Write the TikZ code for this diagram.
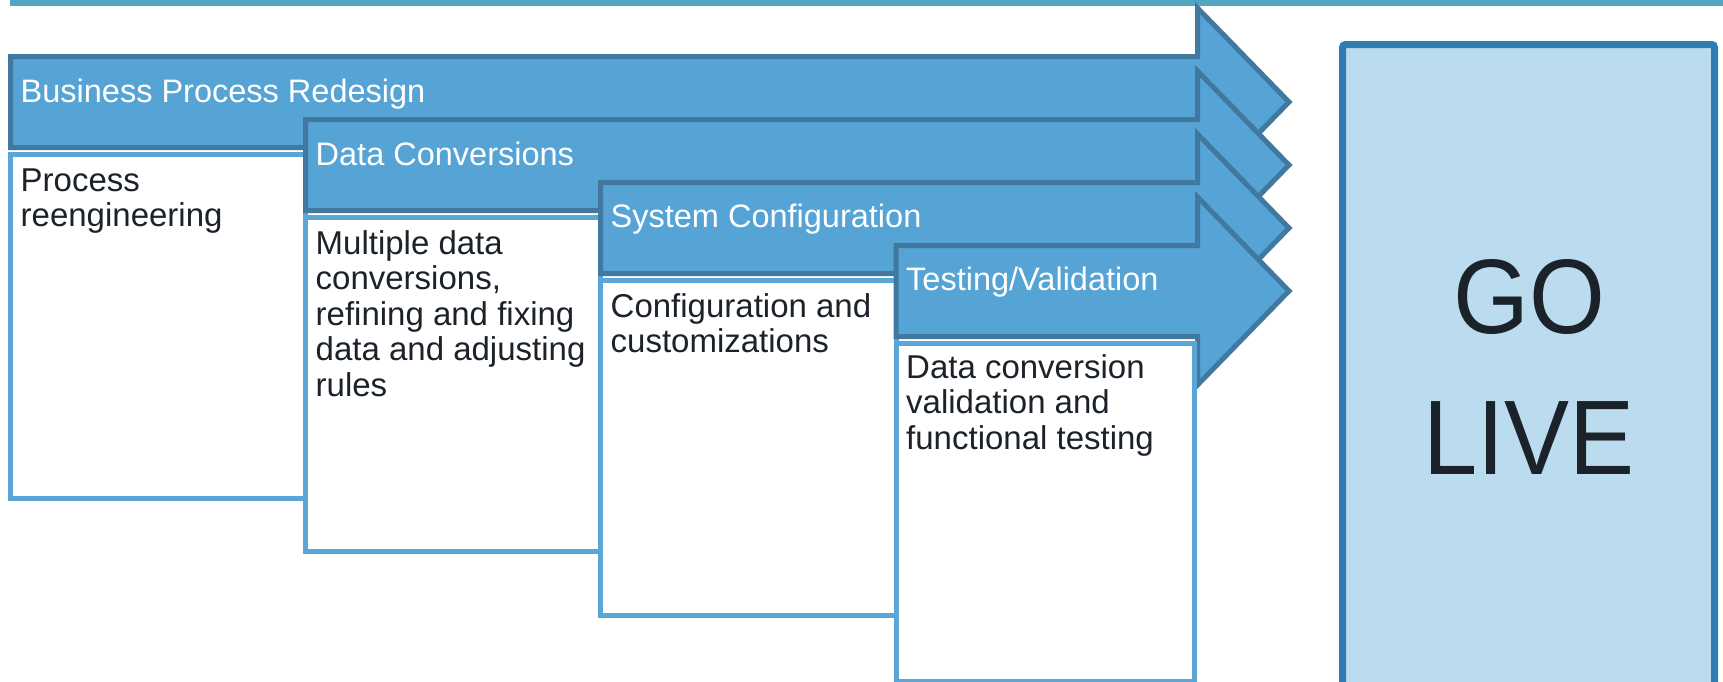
\documentclass[tikz,border=0pt]{standalone}
\usepackage{fontspec}
\setmainfont{Liberation Sans}
\newfontfamily\golivefont[FakeStretch=0.92]{Liberation Sans}
\usepackage{tikz}
\usetikzlibrary{calc}

\definecolor{arrowblue}{HTML}{56A3D5}
\definecolor{arrowedge}{HTML}{41789F}
\definecolor{boxedge}{HTML}{5AA6D6}
\definecolor{toprule}{HTML}{52A6C2}
\definecolor{livefill}{HTML}{BBDCEE}
\definecolor{liveedge}{HTML}{2D7DB3}
\definecolor{textdark}{HTML}{1B2229}

\begin{document}
\begin{tikzpicture}[x=1pt,y=-1pt,
			stagearrow/.style={fill=arrowblue,draw=arrowedge,line width=5pt,line join=miter},
			stagebox/.style={fill=white,draw=boxedge,line width=5pt},
			stagetitle/.style={anchor=base west,inner sep=0pt,text=white,font=\fontsize{32.5}{36}\selectfont},
			stagetext/.style={anchor=north west,inner sep=0pt,align=left,text=textdark,font=\fontsize{33}{35.5}\selectfont}]
			\useasboundingbox (0,0) rectangle (1723,681);
			
			\draw[toprule,line width=6pt] (10,3) -- (1723,3);
			
			% business process redesign
			\draw[stagearrow] (10.5,56.5) -- (1197.5,56.5) -- (1197.5,8) -- (1289,102) -- (1197.5,196) -- (1197.5,147.5) -- (10.5,147.5) -- cycle;
			\draw[stagebox] (10.5,154.5) rectangle (305.5,498);
			\node[stagetitle] (bpr) at (20.5,102) {Business Process Redesign};
			\node[stagetext] (bprtext) at (20.5,168.5) {Process\\reengineering};
			
			% data conversions
			\draw[stagearrow] (305.5,119.5) -- (1197.5,119.5) -- (1197.5,71) -- (1289,165) -- (1197.5,259) -- (1197.5,210.5) -- (305.5,210.5) -- cycle;
			\draw[stagebox] (305.5,217.5) rectangle (600.5,551.5);
			\node[stagetitle] (dc) at (315.5,165) {Data Conversions};
			\node[stagetext] (dctext) at (315.5,230) {Multiple data\\conversions,\\refining and fixing\\data and adjusting\\rules};
			
			% system configuration
			\draw[stagearrow] (600.5,182.5) -- (1197.5,182.5) -- (1197.5,134) -- (1289,228) -- (1197.5,322) -- (1197.5,273.5) -- (600.5,273.5) -- cycle;
			\draw[stagebox] (600.5,280.5) rectangle (896,615.5);
			\node[stagetitle] (sc) at (610.5,227) {System Configuration};
			\node[stagetext] (sctext) at (610.5,293) {Configuration and\\customizations};
			
			% testing/validation
			\draw[stagearrow] (896,245.5) -- (1197.5,245.5) -- (1197.5,197) -- (1289,291) -- (1197.5,385) -- (1197.5,336.5) -- (896,336.5) -- cycle;
			\draw[stagebox] (896,343.5) rectangle (1194.5,681);
			\node[stagetitle] (tv) at (906,290) {Testing/Validation};
			\node[stagetext] (tvtext) at (906,354) {Data conversion\\validation and\\functional testing};
			
			% go live
			\draw[fill=livefill,draw=liveedge,line width=7pt,rounded corners=3pt] (1342.5,44.5) rectangle (1714.5,690);
			\node[anchor=north,inner sep=0pt,align=center,text=textdark,font=\golivefont\fontsize{106}{141}\selectfont] (golive) at (1529,259) {GO\\LIVE};
		\end{tikzpicture}
\end{document}
